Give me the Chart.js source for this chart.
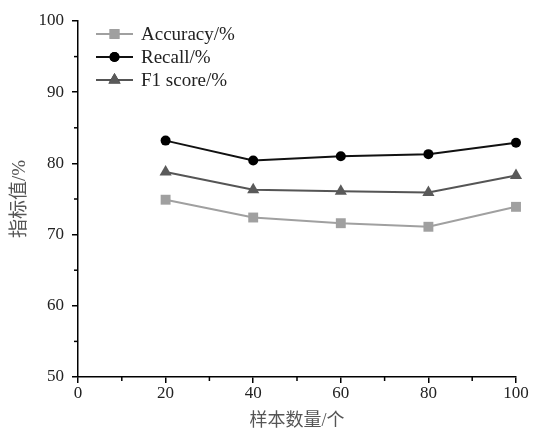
<!DOCTYPE html>
<html>
<head>
<meta charset="utf-8">
<script src="https://cdn.jsdelivr.net/npm/chart.js@4"></script>
<style>
  html, body { margin: 0; padding: 0; background: #fff; }
  #wrap { width: 535px; height: 435px; }
</style>
</head>
<body>
<div id="wrap"><canvas id="chart"></canvas></div>
<script>
const sampleSizes = [20, 40, 60, 80, 100];
const accuracy = [74.9, 72.4, 71.6, 71.1, 73.9];
const recall = [83.2, 80.4, 81.0, 81.3, 82.9];
const f1Score = [78.8, 76.3, 76.1, 75.9, 78.3];
const xMinorTicks = [10, 30, 50, 70, 90];
const yMinorTicks = [55, 65, 75, 85, 95];

const serif = '"Liberation Serif", "Times New Roman", "Noto Sans CJK SC", serif';

function toPoints(vals) {
    return sampleSizes.map((x, i) => ({ x: x, y: vals[i] }));
}

// minor ticks + legend inside the plot
const extras = {
    id: 'extras',
    afterDraw(chart) {
        const ctx = chart.ctx;
        const xs = chart.scales.x, ys = chart.scales.y;
        ctx.save();
        ctx.strokeStyle = '#000';
        ctx.lineWidth = 1.5;
        xMinorTicks.forEach(v => {
            const px = xs.getPixelForValue(v);
            ctx.beginPath();
            ctx.moveTo(px, ys.bottom);
            ctx.lineTo(px, ys.bottom + 4);
            ctx.stroke();
        });
        yMinorTicks.forEach(v => {
            const py = ys.getPixelForValue(v);
            ctx.beginPath();
            ctx.moveTo(xs.left, py);
            ctx.lineTo(xs.left - 4, py);
            ctx.stroke();
        });

        const x0 = chart.chartArea.left + 18;
        let y = chart.chartArea.top + 13;
        chart.data.datasets.forEach((ds, i) => {
            ctx.strokeStyle = ds.borderColor;
            ctx.lineWidth = ds.borderWidth;
            ctx.beginPath();
            ctx.moveTo(x0, y);
            ctx.lineTo(x0 + 37, y);
            ctx.stroke();
            Chart.helpers.drawPoint(ctx, {
                pointStyle: ds.pointStyle,
                radius: ds.pointRadius,
                borderWidth: 0
            }, x0 + 18.5, y);
            ctx.fillStyle = ds.pointBackgroundColor;
            ctx.fill();
            ctx.fillStyle = '#222';
            ctx.font = '19px ' + serif;
            ctx.textBaseline = 'middle';
            ctx.fillText(ds.label, x0 + 45, y + 1);
            y += 23;
        });
        ctx.restore();
    }
};

new Chart(document.getElementById('chart').getContext('2d'), {
    type: 'line',
    data: {
        datasets: [
            {
                label: 'Accuracy/%',
                data: toPoints(accuracy),
                borderColor: '#a0a0a0',
                backgroundColor: '#a0a0a0',
                pointBackgroundColor: '#a0a0a0',
                pointBorderWidth: 0,
                borderWidth: 2,
                pointStyle: 'rect',
                pointRadius: 7,
                clip: false
            },
            {
                label: 'Recall/%',
                data: toPoints(recall),
                borderColor: '#111',
                backgroundColor: '#000',
                pointBackgroundColor: '#000',
                pointBorderWidth: 0,
                borderWidth: 2,
                pointStyle: 'circle',
                pointRadius: 5,
                clip: false
            },
            {
                label: 'F1 score/%',
                data: toPoints(f1Score),
                borderColor: '#555',
                backgroundColor: '#5a5a5a',
                pointBackgroundColor: '#5a5a5a',
                pointBorderWidth: 0,
                borderWidth: 2,
                pointStyle: 'triangle',
                pointRadius: 7,
                clip: false
            }
        ]
    },
    options: {
        responsive: true,
        maintainAspectRatio: false,
        animation: false,
        layout: { padding: { top: 21, right: 19, left: 0, bottom: 0 } },
        scales: {
            x: {
                type: 'linear',
                min: 0,
                max: 100,
                afterFit: s => { s.height = 58; },
                ticks: { stepSize: 20, padding: 0, color: '#222', font: { family: serif, size: 17 } },
                grid: { drawOnChartArea: false, drawTicks: true, tickLength: 6, color: '#000', lineWidth: 1.5 },
                border: { color: '#000', width: 1.5 },
                title: { display: true, text: '样本数量/个', color: '#555', padding: { top: 0, bottom: 3 }, font: { family: serif, size: 18 } }
            },
            y: {
                min: 50,
                max: 100,
                afterFit: s => { s.width = 78; },
                ticks: { stepSize: 10, padding: 8, color: '#222', font: { family: serif, size: 17 } },
                grid: { drawOnChartArea: false, drawTicks: true, tickLength: 6, color: '#000', lineWidth: 1.5 },
                border: { color: '#000', width: 1.5 },
                title: { display: true, text: '指标值/%', color: '#555', padding: { top: 9, bottom: 0 }, font: { family: serif, size: 19 } }
            }
        },
        plugins: {
            legend: { display: false },
            tooltip: { enabled: false }
        }
    },
    plugins: [extras]
});
</script>
</body>
</html>
